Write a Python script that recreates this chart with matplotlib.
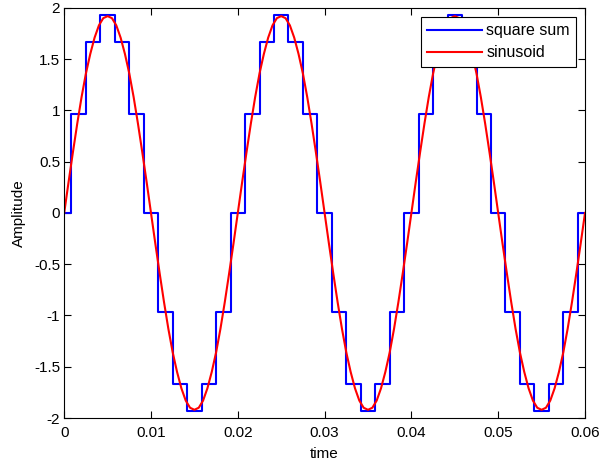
import matplotlib
matplotlib.use("Agg")
import matplotlib.pyplot as plt

plt.rcParams['font.family'] = ['Liberation Sans', 'DejaVu Sans']

# sinusoide, passo de 0.0005 s
t_sin = [i * 0.0005 for i in range(121)]
y_sin = [0.00, 0.30, 0.59, 0.87, 1.13, 1.36, 1.55, 1.71, 1.83, 1.90,
         1.92, 1.90, 1.83, 1.71, 1.55, 1.36, 1.13, 0.87, 0.59, 0.30,
         0.00, -0.30, -0.59, -0.87, -1.13, -1.36, -1.55, -1.71, -1.83, -1.90,
         -1.92, -1.90, -1.83, -1.71, -1.55, -1.36, -1.13, -0.87, -0.59, -0.30,
         0.00, 0.30, 0.59, 0.87, 1.13, 1.36, 1.55, 1.71, 1.83, 1.90,
         1.92, 1.90, 1.83, 1.71, 1.55, 1.36, 1.13, 0.87, 0.59, 0.30,
         0.00, -0.30, -0.59, -0.87, -1.13, -1.36, -1.55, -1.71, -1.83, -1.90,
         -1.92, -1.90, -1.83, -1.71, -1.55, -1.36, -1.13, -0.87, -0.59, -0.30,
         0.00, 0.30, 0.59, 0.87, 1.13, 1.36, 1.55, 1.71, 1.83, 1.90,
         1.92, 1.90, 1.83, 1.71, 1.55, 1.36, 1.13, 0.87, 0.59, 0.30,
         0.00, -0.30, -0.59, -0.87, -1.13, -1.36, -1.55, -1.71, -1.83, -1.90,
         -1.92, -1.90, -1.83, -1.71, -1.55, -1.36, -1.13, -0.87, -0.59, -0.30,
         0.00]

# soma de degraus: bordas e niveis
bordas = [0, 0.00083, 0.0025, 0.00417, 0.00583, 0.0075, 0.00917,
          0.01083, 0.0125, 0.01417, 0.01583, 0.0175, 0.01917,
          0.02083, 0.0225, 0.02417, 0.02583, 0.0275, 0.02917,
          0.03083, 0.0325, 0.03417, 0.03583, 0.0375, 0.03917,
          0.04083, 0.0425, 0.04417, 0.04583, 0.0475, 0.04917,
          0.05083, 0.0525, 0.05417, 0.05583, 0.0575, 0.05917, 0.06]
niveis = [0, 0.965, 1.67, 1.93, 1.67, 0.965, 0, -0.965, -1.67, -1.93, -1.67, -0.965,
          0, 0.965, 1.67, 1.93, 1.67, 0.965, 0, -0.965, -1.67, -1.93, -1.67, -0.965,
          0, 0.965, 1.67, 1.93, 1.67, 0.965, 0, -0.965, -1.67, -1.93, -1.67, -0.965,
          0]

fig = plt.figure(figsize=(6, 4.66), dpi=100)
ax = fig.add_axes([0.107, 0.103, 0.868, 0.880])

ax.step(bordas, niveis + [niveis[-1]], where='post', color=(0, 0, 1),
        linewidth=1.5, label='square sum')
ax.plot(t_sin, y_sin, color=(1, 0, 0), linewidth=1.5, label='sinusoid')

ax.set_xlim(0, 0.06)
ax.set_ylim(-2, 2)
ax.set_xticks([0, 0.01, 0.02, 0.03, 0.04, 0.05, 0.06])
ax.set_xticklabels(['0', '0.01', '0.02', '0.03', '0.04', '0.05', '0.06'])
ax.set_yticks([-2, -1.5, -1, -0.5, 0, 0.5, 1, 1.5, 2])
ax.set_yticklabels(['-2', '-1.5', '-1', '-0.5', '0', '0.5', '1', '1.5', '2'])
ax.tick_params(direction='in', top=True, right=True, length=5,
               labelsize=11, width=0.8)
ax.tick_params(axis='x', pad=6)
ax.tick_params(axis='y', pad=3)
for s in ax.spines.values():
    s.set_linewidth(0.8)

ax.set_xlabel('time', fontsize=11, labelpad=5)
ax.set_ylabel('Amplitude', fontsize=11, labelpad=6)

leg = ax.legend(loc='upper right', fontsize=11.5, handlelength=3.4,
                fancybox=False, framealpha=1, edgecolor='black',
                borderaxespad=0.55, handletextpad=0.3, labelspacing=0.45,
                borderpad=0.4)
leg.get_frame().set_linewidth(0.8)

plt.savefig('out.png', dpi=100)
